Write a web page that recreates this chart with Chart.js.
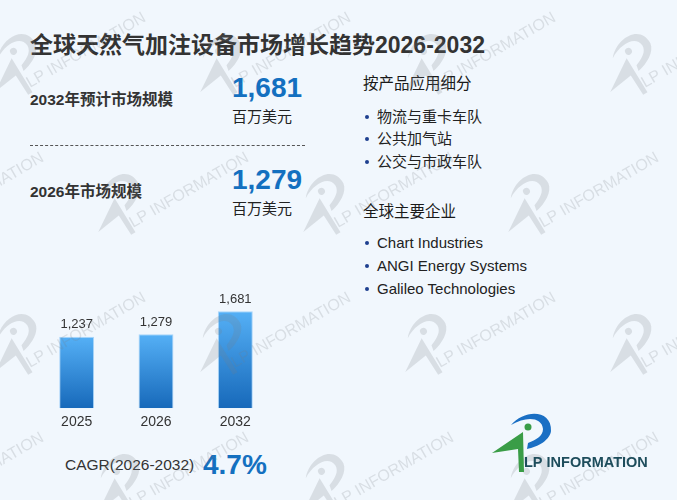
<!DOCTYPE html>
<html>
<head>
<meta charset="utf-8">
<script src="https://cdn.jsdelivr.net/npm/chart.js@4.4.1/dist/chart.umd.min.js"></script>
<style>
body{margin:0;width:677px;height:500px;overflow:hidden;position:relative;background:#f1f7fd;
  font-family:"Liberation Sans","Noto Sans CJK SC",sans-serif;color:#333}
.t{position:absolute;white-space:nowrap}
.title{left:30px;top:29px;line-height:32px;font-size:23px;font-weight:bold;color:#333}
.lbl{left:30px;line-height:24px;font-size:15.5px;font-weight:bold;color:#333}
.num{left:232px;line-height:34px;font-size:28px;font-weight:bold;color:#1470c0}
.unit{left:232px;line-height:20px;font-size:15px;color:#222}
.head{left:363px;line-height:20px;font-size:15.5px;color:#1a1a1a}
.item{left:377px;line-height:20px;font-size:15px;color:#222}
.item:before{content:"";position:absolute;left:-12px;top:8px;width:4px;height:4px;border-radius:2px;background:#1e3f8f}
.dash{position:absolute;left:30px;top:145px;width:275px;border-top:1px dashed #555}
#chartBox{position:absolute;left:37px;top:280px;width:238px;height:157px}
#overlay{position:absolute;left:0;top:0;pointer-events:none}
</style>
</head>
<body>
<div class="t title">全球天然气加注设备市场增长趋势2026-2032</div>

<div class="t lbl" style="top:88px">2032年预计市场规模</div>
<div class="t num" style="top:71px">1,681</div>
<div class="t unit" style="top:107px">百万美元</div>
<div class="dash"></div>
<div class="t lbl" style="top:180px">2026年市场规模</div>
<div class="t num" style="top:163px">1,279</div>
<div class="t unit" style="top:199px">百万美元</div>

<div class="t head" style="top:74px">按产品应用细分</div>
<div class="t item" style="top:107px">物流与重卡车队</div>
<div class="t item" style="top:129px">公共加气站</div>
<div class="t item" style="top:152px">公交与市政车队</div>
<div class="t head" style="top:202px">全球主要企业</div>
<div class="t item" style="top:233px">Chart Industries</div>
<div class="t item" style="top:256px">ANGI Energy Systems</div>
<div class="t item" style="top:279px">Galileo Technologies</div>

<div id="chartBox"><canvas id="myChart"></canvas></div>

<div class="t" style="left:65px;top:455px;line-height:20px;font-size:15.5px;color:#333">CAGR(2026-2032)</div>
<div class="t" style="left:203px;top:448px;line-height:34px;font-size:28px;font-weight:bold;color:#1470c0">4.7%</div>

<canvas id="overlay" width="677" height="500"></canvas>

<script>
const years = ['2025', '2026', '2032'];
const marketSize = [1237, 1279, 1681];
const valueLabels = ['1,237', '1,279', '1,681'];

// draws the LP logo, origin = start of the text baseline
function drawLogo(c, blue, green, textColor, textFont) {
    c.fillStyle = blue;
    c.beginPath();
    c.moveTo(-13, -42);
    c.bezierCurveTo(0, -58, 28, -58, 27, -36);
    c.bezierCurveTo(26, -27, 14, -20, 3, -18);
    c.lineTo(4, -24);
    c.bezierCurveTo(12, -27, 19, -31, 19, -38);
    c.bezierCurveTo(18, -50, 2, -51, -13, -42);
    c.closePath();
    c.fill();

    c.fillStyle = green;
    c.beginPath();
    c.arc(4, -40, 3.5, 0, Math.PI * 2);
    c.fill();
    c.beginPath();
    c.moveTo(-32, -14);
    c.lineTo(-1, -35);
    c.lineTo(0, 5);
    c.lineTo(-5, 5);
    c.lineTo(-6, -18);
    c.closePath();
    c.fill();

    c.fillStyle = textColor;
    c.font = textFont;
    c.textBaseline = 'alphabetic';
    c.fillText('LP INFORMATION', 0, 0);
}

const valuePlugin = {
    id: 'valueLabels',
    afterDatasetsDraw(chart) {
        const c = chart.ctx;
        const meta = chart.getDatasetMeta(0);
        c.save();
        c.font = '13px "Liberation Sans", sans-serif';
        c.fillStyle = '#333';
        c.textAlign = 'center';
        c.textBaseline = 'middle';
        meta.data.forEach((bar, i) => {
            c.fillText(valueLabels[i], bar.x, bar.y - 12);
        });
        c.restore();
    }
};

window.onload = () => {
    const ctx = document.getElementById('myChart');

    const chart = new Chart(ctx, {
        type: 'bar',
        data: {
            labels: years,
            datasets: [{
                data: marketSize,
                backgroundColor: (context) => {
                    const chart = context.chart;
                    const area = chart.chartArea;
                    if (!area) return '#3b8fdc';
                    const top = chart.scales.y.getPixelForValue(context.raw);
                    const g = chart.ctx.createLinearGradient(0, top, 0, area.bottom);
                    g.addColorStop(0, '#55b0f6');
                    g.addColorStop(1, '#1769ba');
                    return g;
                },
                borderColor: 'rgba(140,200,248,0.7)',
                borderWidth: 1,
                barPercentage: 0.44,
                categoryPercentage: 1
            }]
        },
        options: {
            responsive: true,
            maintainAspectRatio: false,
            animation: false,
            plugins: {
                legend: { display: false },
                tooltip: { enabled: false }
            },
            layout: { padding: 0 },
            scales: {
                x: {
                    border: { display: false },
                    grid: { display: false, drawTicks: false },
                    ticks: {
                        color: '#333',
                        padding: 6,
                        font: { family: '"Liberation Sans", sans-serif', size: 14 }
                    }
                },
                y: {
                    display: false,
                    min: 0,
                    max: 2220
                }
            }
        },
        plugins: [valuePlugin]
    });

    // watermark tiles + logo
    const ov = document.getElementById('overlay').getContext('2d');
    for (let r = -1; r <= 4; r++) {
        for (let col = -1; col <= 3; col++) {
            const x = 30 + col * 205 + (Math.abs(r) % 2 ? 103 : 0);
            const y = 88 + r * 140;
            ov.save();
            ov.translate(x, y);
            ov.rotate(-Math.PI / 6);
            const wm = 'rgba(120,125,130,0.2)';
            drawLogo(ov, wm, wm, wm, '16px "Liberation Sans", sans-serif');
            ov.restore();
        }
    }
    ov.save();
    ov.translate(524, 467);
    drawLogo(ov, '#1a6fc4', '#3a9d47', '#1e4d5c', 'bold 14.5px "Liberation Sans", sans-serif');
    ov.restore();
};
</script>
</body>
</html>
